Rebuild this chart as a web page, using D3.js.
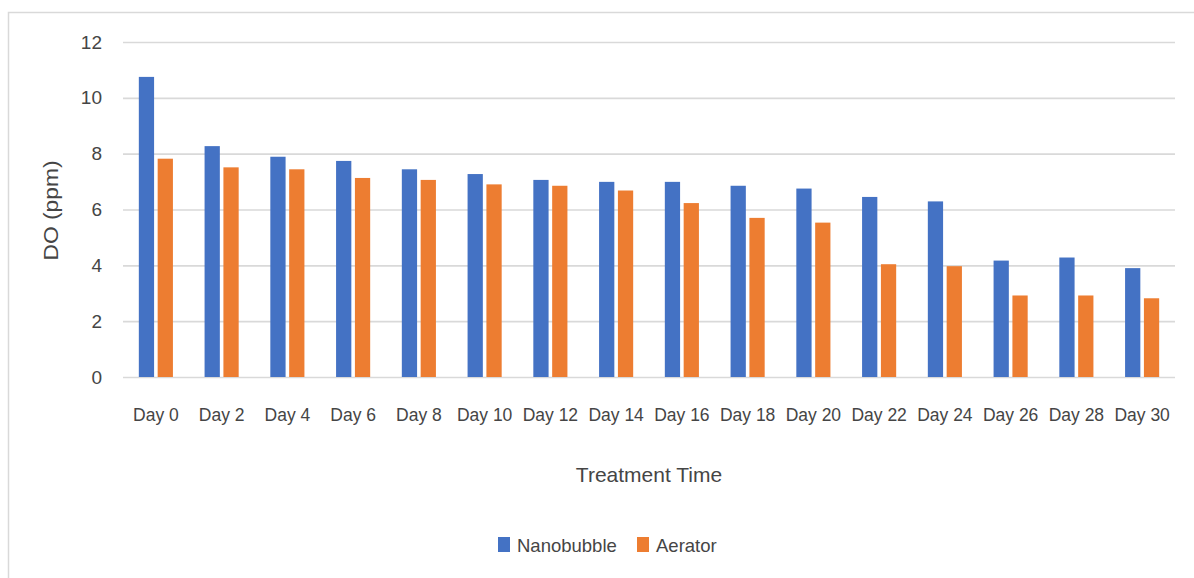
<!DOCTYPE html>
<html>
<head>
<meta charset="utf-8">
<script src="https://cdn.jsdelivr.net/npm/d3@7"></script>
<style>
  body { margin: 0; background: #fff; }
  svg { display: block; font-family: "Liberation Sans", Arial, sans-serif; }
</style>
</head>
<body>
<svg id="chart" width="1194" height="578"></svg>
<script>
// values
const days = ["Day 0", "Day 2", "Day 4", "Day 6", "Day 8", "Day 10", "Day 12", "Day 14",
              "Day 16", "Day 18", "Day 20", "Day 22", "Day 24", "Day 26", "Day 28", "Day 30"];
const seriesNames = ["Nanobubble", "Aerator"];
const nanobubble = [10.75, 8.27, 7.89, 7.74, 7.44, 7.27, 7.06, 6.99, 6.99, 6.85, 6.75, 6.45, 6.29, 4.17, 4.28, 3.90];
const aerator = [7.82, 7.51, 7.44, 7.13, 7.06, 6.90, 6.85, 6.68, 6.23, 5.70, 5.53, 4.04, 3.97, 2.92, 2.92, 2.82];
const yTicks = [0, 2, 4, 6, 8, 10, 12];

const colors = { Nanobubble: "#4472C4", Aerator: "#ED7D31" };
const textColor = "#454545";
const gridColor = "#d9d9d9";

// table built from the arrays above
const rows = days.map((d, i) => ({ day: d, Nanobubble: nanobubble[i], Aerator: aerator[i] }));

const svg = d3.select("#chart");

// outer chart border (runs off the right / bottom of the picture)
svg.append("rect")
    .attr("x", 8.5).attr("y", 12.5)
    .attr("width", 1200).attr("height", 600)
    .attr("fill", "none")
    .attr("stroke", gridColor)
    .attr("stroke-width", 1.5);

const plotLeft = 123, plotRight = 1175, plotTop = 42, plotBottom = 377;

const x = d3.scaleBand().domain(days).range([plotLeft, plotRight]);
const x1 = d3.scaleBand().domain(seriesNames).range([0, x.bandwidth()])
    .paddingInner(0.19).paddingOuter(0.84);
const y = d3.scaleLinear().domain([0, 12]).range([plotBottom, plotTop]);

// gridlines + y labels
const yAxis = svg.append("g")
    .attr("transform", `translate(${plotLeft},0)`)
    .call(d3.axisLeft(y).tickValues(yTicks).tickSize(-(plotRight - plotLeft)).tickPadding(21));
yAxis.select(".domain").remove();
yAxis.selectAll(".tick line").attr("stroke", gridColor).attr("stroke-width", 1.6);
yAxis.selectAll(".tick text")
    .attr("fill", textColor)
    .attr("font-size", 19)
    .attr("font-family", "Liberation Sans, Arial, sans-serif");

// bars
const groups = svg.append("g")
    .selectAll("g")
    .data(rows)
    .join("g")
    .attr("transform", d => `translate(${x(d.day)},0)`);

groups.selectAll("rect")
    .data(d => seriesNames.map(s => ({ key: s, value: d[s] })))
    .join("rect")
    .attr("x", d => x1(d.key))
    .attr("width", x1.bandwidth())
    .attr("y", d => y(d.value))
    .attr("height", d => y(0) - y(d.value))
    .attr("fill", d => colors[d.key]);

// x labels
const xAxis = svg.append("g")
    .attr("transform", `translate(0,${plotBottom})`)
    .call(d3.axisBottom(x).tickSize(0).tickPadding(32));
xAxis.select(".domain").remove();
xAxis.selectAll(".tick text")
    .attr("fill", textColor)
    .attr("font-size", 17.5)
    .attr("font-family", "Liberation Sans, Arial, sans-serif");

// axis titles
svg.append("text")
    .attr("x", (plotLeft + plotRight) / 2)
    .attr("y", 482)
    .attr("text-anchor", "middle")
    .attr("fill", textColor)
    .attr("font-size", 21)
    .text("Treatment Time");

svg.append("text")
    .attr("transform", `translate(58,${(plotTop + plotBottom) / 2 + 1}) rotate(-90)`)
    .attr("text-anchor", "middle")
    .attr("fill", textColor)
    .attr("font-size", 21)
    .attr("textLength", 100)
    .attr("lengthAdjust", "spacingAndGlyphs")
    .text("DO (ppm)");

// legend
const legend = svg.append("g").attr("transform", "translate(498,537)");
const legendX = [0, 139];
seriesNames.forEach((s, i) => {
  const g = legend.append("g").attr("transform", `translate(${legendX[i]},0)`);
  g.append("rect").attr("width", 12).attr("height", 15).attr("fill", colors[s]);
  g.append("text")
    .attr("x", 19).attr("y", 15)
    .attr("fill", textColor)
    .attr("font-size", 18.5)
    .text(s);
});
</script>
</body>
</html>
